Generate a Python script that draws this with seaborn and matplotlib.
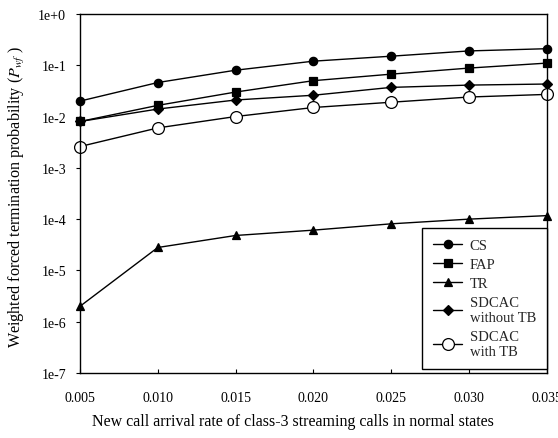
import matplotlib
matplotlib.use("Agg")
import matplotlib.pyplot as plt
import seaborn as sns
import pandas as pd

# Arrival rate of class-3 streaming calls
rates = [0.005, 0.010, 0.015, 0.020, 0.025, 0.030, 0.035]

# Weighted forced termination probability per scheme
cs = [0.020, 0.046, 0.080, 0.120, 0.150, 0.190, 0.210]
fap = [0.0080, 0.0165, 0.030, 0.050, 0.067, 0.088, 0.110]
tr = [2.0e-6, 2.8e-5, 4.8e-5, 6.1e-5, 8.1e-5, 1.0e-4, 1.17e-4]
sdcac_no_tb = [0.0080, 0.0140, 0.021, 0.026, 0.037, 0.041, 0.043]
sdcac_tb = [0.0026, 0.0060, 0.010, 0.015, 0.019, 0.024, 0.027]

labels = ["CS", "FAP", "TR", "SDCAC\nwithout TB", "SDCAC\nwith TB"]
series = [cs, fap, tr, sdcac_no_tb, sdcac_tb]

y_ticks = [1e0, 1e-1, 1e-2, 1e-3, 1e-4, 1e-5, 1e-6, 1e-7]
y_tick_labels = ["1e+0", "1e-1", "1e-2", "1e-3", "1e-4", "1e-5", "1e-6", "1e-7"]
x_tick_labels = ["0.005", "0.010", "0.015", "0.020", "0.025", "0.030", "0.035"]

sns.set_theme(style="white")
plt.rcParams["font.family"] = ["Liberation Serif", "DejaVu Serif"]
plt.rcParams["mathtext.fontset"] = "stix"

frames = []
for lab, vals in zip(labels, series):
    frames.append(pd.DataFrame({"rate": rates, "p": vals, "scheme": lab}))
df = pd.concat(frames, ignore_index=True)

fig = plt.figure(figsize=(5.58, 4.39), dpi=100)
ax = fig.add_axes([0.1434, 0.148, 0.8366, 0.818])

styles = {
    "CS": dict(marker="o", markersize=6, markerfacecolor="black"),
    "FAP": dict(marker="s", markersize=5.5, markerfacecolor="black"),
    "TR": dict(marker="^", markersize=6, markerfacecolor="black"),
    "SDCAC\nwithout TB": dict(marker="D", markersize=5, markerfacecolor="black"),
    "SDCAC\nwith TB": dict(marker="o", markersize=8.5, markerfacecolor="white"),
}

for lab in labels:
    sub = df[df["scheme"] == lab]
    sns.lineplot(data=sub, x="rate", y="p", ax=ax, color="black", linewidth=1.0,
                 markeredgecolor="black", markeredgewidth=0.9, label=lab,
                 clip_on=False, **styles[lab])

ax.set_yscale("log")
ax.set_ylim(1e-7, 1e0)
ax.set_xlim(0.005, 0.035)
ax.set_yticks(y_ticks)
ax.set_yticklabels(y_tick_labels)
ax.minorticks_off()
ax.set_xticks(rates)
ax.set_xticklabels(x_tick_labels)
ax.tick_params(axis="y", direction="out", length=3, width=0.8, left=True,
               labelsize=10, pad=7, colors="black")
ax.tick_params(axis="x", direction="in", length=3, width=0.8, bottom=True,
               labelsize=10, pad=13, colors="black")
for s in ax.spines.values():
    s.set_color("black")
    s.set_linewidth(1.0)

ax.set_xlabel("New call arrival rate of class-3 streaming calls in normal states",
              fontsize=11.5, color="black")
ax.xaxis.set_label_coords(0.457, -0.112)
ax.set_ylabel(r"Weighted forced termination probability ($P_{wf}$ )",
              fontsize=11.6, color="black")
ax.yaxis.set_label_coords(-0.114, 0.493)

leg = ax.legend(loc="lower right", bbox_to_anchor=(1.0, 0.012), borderaxespad=0.0,
                frameon=True, fancybox=False, edgecolor="black", fontsize=10.5,
                handlelength=2.0, labelspacing=0.4, borderpad=0.75,
                handletextpad=0.5)
leg.get_frame().set_linewidth(1.0)
leg.get_frame().set_facecolor("white")
leg.get_frame().set_alpha(1.0)

fig.savefig("out.png", dpi=100)
